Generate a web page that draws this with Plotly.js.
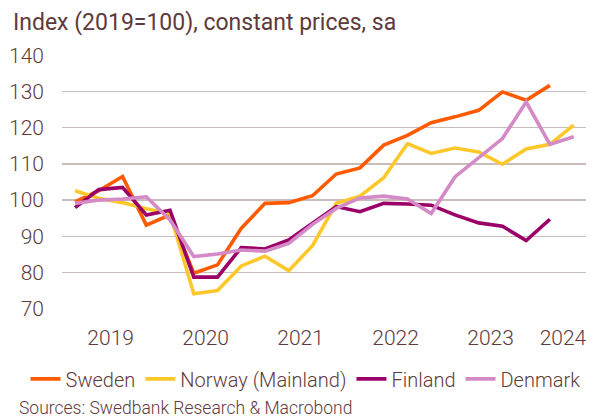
<!DOCTYPE html>
<html>
<head>
<meta charset="utf-8">
<script src="https://cdn.plot.ly/plotly-3.0.1.min.js"></script>
<style>
  html, body { margin: 0; padding: 0; background: #ffffff; }
  #chart { width: 594px; height: 417px; }
</style>
</head>
<body>
<div id="chart"></div>
<script>
const quarters = ["2019Q1","2019Q2","2019Q3","2019Q4","2020Q1","2020Q2","2020Q3","2020Q4",
                  "2021Q1","2021Q2","2021Q3","2021Q4","2022Q1","2022Q2","2022Q3","2022Q4",
                  "2023Q1","2023Q2","2023Q3","2023Q4","2024Q1","2024Q2"];
const sweden  = [99.5, 102.6, 106.5, 93.1, 95.9, 79.8, 82.1, 92.2, 99.1, 99.3, 101.2, 107.2, 108.9, 115.2, 117.9, 121.4, 123.0, 124.8, 129.9, 127.6, 131.7];
const norway  = [102.6, 100.5, 99.3, 97.6, 96.3, 74.1, 75.0, 81.8, 84.5, 80.5, 87.4, 99.1, 101.1, 106.2, 115.6, 112.9, 114.4, 113.3, 109.9, 114.1, 115.4, 120.7];
const finland = [97.9, 102.9, 103.5, 95.9, 97.2, 78.7, 78.7, 86.9, 86.5, 89.0, 93.6, 98.2, 96.8, 99.1, 98.9, 98.6, 95.9, 93.7, 92.8, 88.8, 94.7];
const denmark = [99.1, 100.0, 100.3, 100.9, 94.5, 84.4, 85.1, 86.2, 85.9, 88.0, 93.3, 97.7, 100.6, 101.1, 100.3, 96.3, 106.4, 111.8, 117.0, 127.1, 115.4, 117.5];
const yearLabels = ["2019","2020","2021","2022","2023","2024"];
const yearTickPos = [1.5, 5.5, 9.5, 13.5, 17.5, 20.55];

const xIdx = arr => arr.map((_, i) => i);
const textColor = "#5e3a3a";
const fontFam = "Roboto, 'Noto Sans', sans-serif";

const mk = (name, y, color) => ({
  type: "scatter", mode: "lines", name: name,
  x: xIdx(y), y: y, text: quarters.slice(0, y.length),
  line: { color: color, width: 3.6 },
  hoverinfo: "text+y+name"
});

const data = [
  mk("Sweden", sweden, "#ff5a00"),
  mk("Norway (Mainland)", norway, "#ffc82a"),
  mk("Finland", finland, "#9b0069"),
  mk("Denmark", denmark, "#d38ac6")
];

const layout = {
  width: 594, height: 417,
  paper_bgcolor: "#ffffff", plot_bgcolor: "#ffffff",
  margin: { l: 62, r: 8, t: 55, b: 108 },
  font: { family: fontFam, color: textColor, size: 20, weight: 300 },
  showlegend: true,
  legend: {
    orientation: "h", x: -0.0695, xanchor: "left", y: -0.275, yanchor: "middle",
    xref: "paper", font: { size: 20, color: textColor, family: fontFam, weight: 300 },
    itemwidth: 30, tracegroupgap: 0, bgcolor: "rgba(0,0,0,0)"
  },
  xaxis: {
    range: [-0.55, 21.52],
    tickmode: "array", tickvals: yearTickPos, ticktext: yearLabels,
    showgrid: false, zeroline: false, showline: false, ticks: "",
    tickfont: { size: 21, color: textColor, family: fontFam, weight: 300 },
    ticklabelstandoff: 14,
    fixedrange: true
  },
  yaxis: {
    range: [69.9, 140.1],
    tickmode: "array", tickvals: [70, 80, 90, 100, 110, 120, 130, 140],
    showgrid: true, gridcolor: "#cbbcbc", gridwidth: 1.3,
    zeroline: false, showline: false, ticks: "", ticklen: 0,
    tickfont: { size: 21, color: textColor, family: fontFam, weight: 300 },
    ticklabelstandoff: 17,
    fixedrange: true
  },
  shapes: [
    { type: "line", xref: "paper", x0: 0, x1: 1, yref: "y", y0: 100, y1: 100,
      line: { color: "#4a2626", width: 2 }, layer: "below" }
  ],
  annotations: [
    { text: "Index (2019=100), constant prices, sa", xref: "paper", yref: "paper",
      x: -0.0973, xanchor: "left", y: 1.126, yanchor: "middle", showarrow: false,
      font: { size: 23, color: textColor, family: fontFam, weight: 400 } },
    { text: "Sources: Swedbank Research & Macrobond", xref: "paper", yref: "paper",
      x: -0.0859, xanchor: "left", y: -0.39, yanchor: "middle", showarrow: false,
      font: { size: 17.5, color: textColor, family: fontFam, weight: 300 } }
  ]
};

Plotly.newPlot("chart", data, layout, { displayModeBar: false, staticPlot: true });
</script>
</body>
</html>
